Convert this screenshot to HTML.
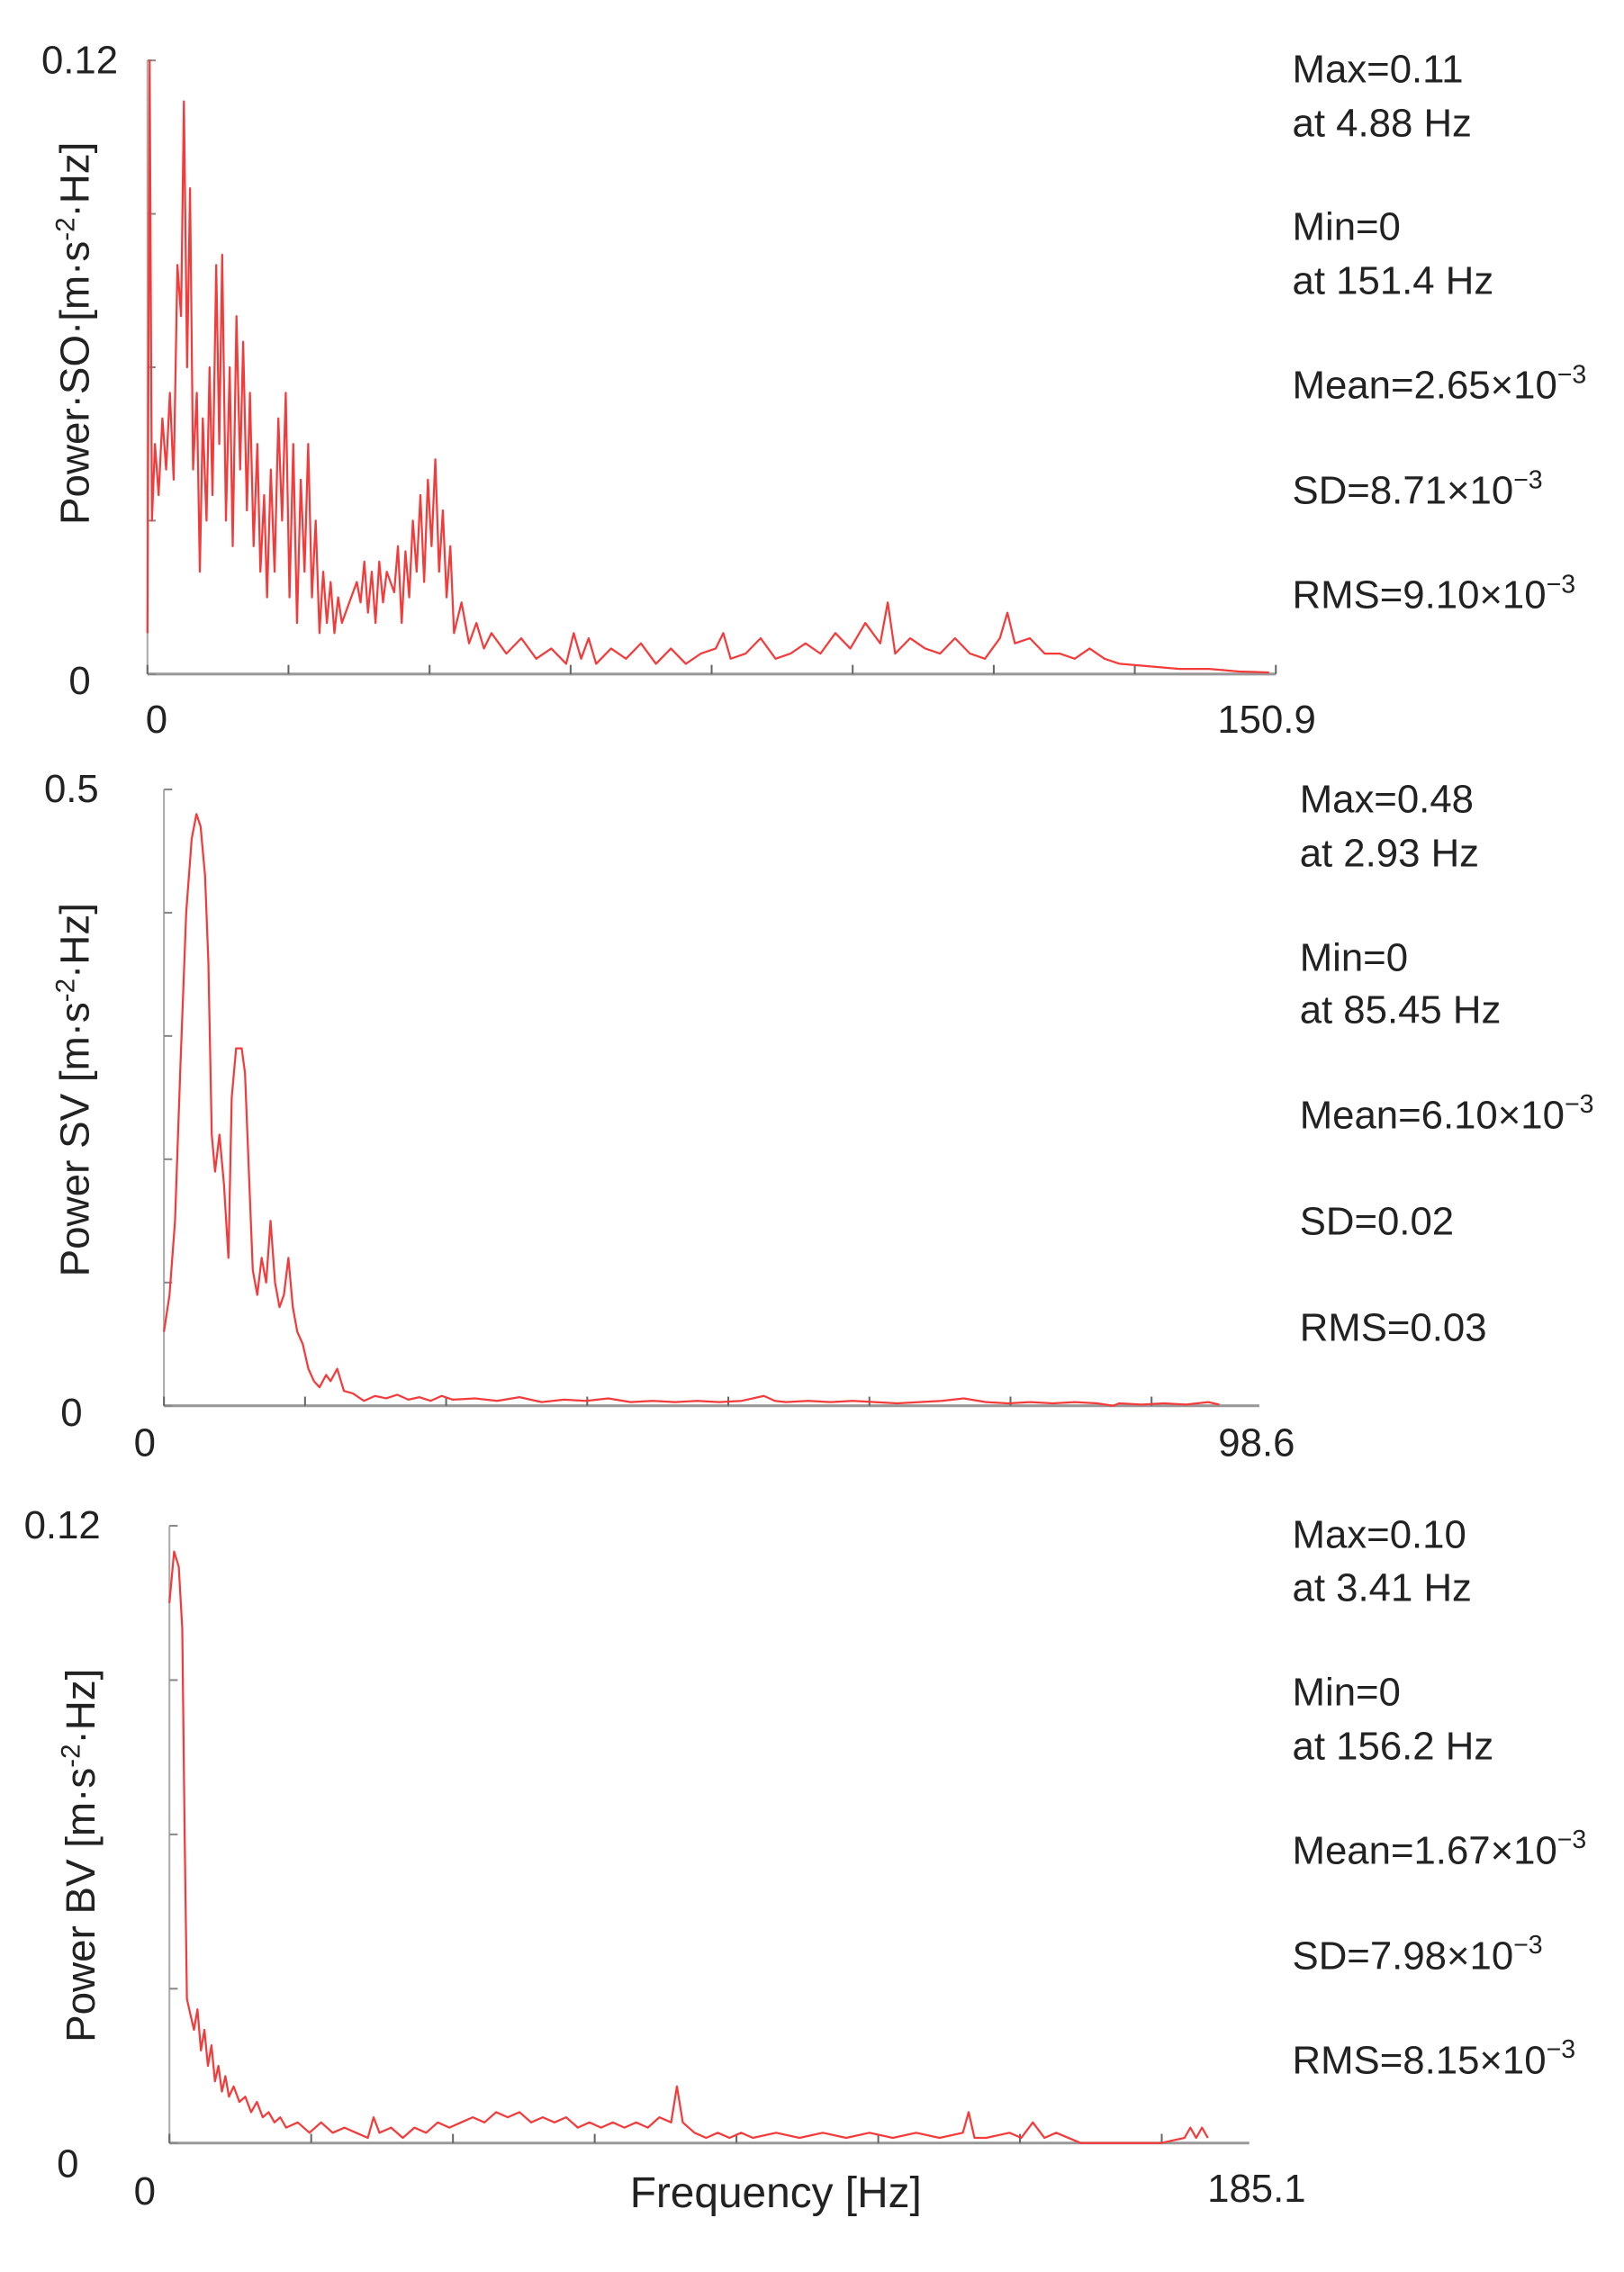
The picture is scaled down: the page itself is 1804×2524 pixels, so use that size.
<!DOCTYPE html>
<html><head><meta charset="utf-8">
<style>
html,body{margin:0;padding:0;background:#fff;}
svg{display:block;}
.num{font-family:"Liberation Sans Narrow","Liberation Sans",sans-serif;font-size:43px;fill:#222;}
.ylab{font-family:"Liberation Sans",sans-serif;font-size:45px;fill:#222;}
.xlab{font-family:"Liberation Sans",sans-serif;font-size:47px;fill:#222;}
</style></head>
<body>
<svg id="fig" width="1804" height="2524" viewBox="0 0 1804 2524" xmlns="http://www.w3.org/2000/svg"><g id="root" transform="scale(1.0174)"></g></svg>
<script>
// ---- Chart 1 data (Power SO) ----
const soFreq = [0,0.3,0.6,1.0,1.5,2.0,2.5,3.0,3.5,4.0,4.5,4.88,5.3,5.7,6.1,6.6,7.0,7.4,7.9,8.3,8.7,9.2,9.6,10.0,10.5,11.0,11.4,11.9,12.4,12.8,13.3,13.7,14.2,14.7,15.1,15.6,16.0,16.5,17.0,17.5,18.0,18.5,19.0,19.5,20.0,20.5,21.0,21.5,22.0,22.5,23.0,23.5,24.0,24.5,25.0,25.5,26.0,27.0,28.0,28.5,29.0,29.5,30.0,30.5,31.0,31.5,32.0,33.0,33.5,34.0,34.5,35.0,35.5,36.0,36.5,37.0,37.5,38.0,38.5,39.0,39.5,40.0,40.5,41.0,42,43,44,45,46,48,50,52,54,56,57,58,59,60,62,64,66,68,70,72,74,76,77,78,80,82,84,86,88,90,92,94,96,98,99,100,102,104,106,108,110,112,114,115,116,118,120,122,124,126,128,130,134,138,142,146,150];
const soPower = [8,120,30,45,35,50,40,55,38,80,70,112,60,95,40,55,20,50,30,60,35,80,45,82,30,60,25,70,40,65,32,55,25,45,20,35,15,40,20,50,30,55,15,45,10,38,20,45,15,30,8,20,10,18,8,15,10,14,18,14,22,12,20,10,22,14,20,16,25,10,24,15,30,20,35,18,38,25,42,20,32,15,25,8,14,6,10,5,8,4,7,3,5,2,8,3,7,2,5,3,6,2,5,2,4,5,8,3,4,7,3,4,6,4,8,5,10,6,14,4,7,5,4,7,4,3,7,12,6,7,4,4,3,5,3,2,1.5,1,1,0.5,0.3]; // x1e-3
const soYTicks = [0,0.03,0.06,0.09,0.12];
const soXTicks = [0,18.86,37.73,56.59,75.45,94.31,113.18,132.04,150.9];

// ---- Chart 2 data (Power SV) ----
const svFreq = [0,0.5,1.0,1.5,2.0,2.5,2.93,3.3,3.7,4.0,4.3,4.6,5.0,5.4,5.8,6.1,6.5,7.0,7.3,7.6,8.0,8.4,8.8,9.2,9.6,10.0,10.4,10.8,11.2,11.6,12.0,12.5,13.0,13.5,14.0,14.6,15.0,15.6,16.2,17,18,19,20,21,22,23,24,25,26,28,30,32,34,36,38,40,42,44,46,48,50,52,54,55,56,58,60,62,64,66,68,70,72,74,76,78,80,82,84,85.45,86,88,90,92,94,95];
const svPower = [0.06,0.09,0.15,0.28,0.40,0.46,0.48,0.47,0.43,0.36,0.22,0.19,0.22,0.18,0.12,0.25,0.29,0.29,0.27,0.20,0.11,0.09,0.12,0.10,0.15,0.10,0.08,0.09,0.12,0.08,0.06,0.05,0.03,0.02,0.015,0.025,0.02,0.03,0.012,0.01,0.004,0.008,0.006,0.009,0.005,0.007,0.004,0.008,0.005,0.006,0.004,0.007,0.003,0.005,0.004,0.006,0.003,0.004,0.003,0.004,0.003,0.004,0.008,0.004,0.003,0.004,0.003,0.004,0.003,0.002,0.003,0.004,0.006,0.003,0.002,0.003,0.002,0.003,0.002,0,0.002,0.001,0.002,0.001,0.003,0.001];
const svYTicks = [0,0.1,0.2,0.3,0.4,0.5];
const svXTicks = [0,12.7,25.4,38.1,50.8,63.5,76.2,88.9];

// ---- Chart 3 data (Power BV) ----
const bvFreq = [0,0.8,1.6,2.2,2.6,3.0,3.6,4.2,4.8,5.4,6.0,6.6,7.2,7.8,8.4,9.0,9.6,10.2,11,12,13,14,15,16,17,18,19,20,22,24,26,28,30,32,34,35,36,38,40,42,44,46,48,50,52,54,56,58,60,62,64,66,68,70,72,74,76,78,80,82,84,86,87,88,90,92,94,96,98,100,104,108,112,116,120,124,128,132,136,137,138,140,144,146,148,150,152,156.2,160,170,174,175,176,177,178];
const bvPower = [0.105,0.115,0.112,0.100,0.060,0.028,0.025,0.022,0.026,0.018,0.022,0.015,0.019,0.012,0.015,0.010,0.013,0.009,0.011,0.008,0.009,0.006,0.008,0.005,0.006,0.004,0.005,0.003,0.004,0.002,0.004,0.002,0.003,0.002,0.001,0.005,0.002,0.003,0.001,0.003,0.002,0.004,0.003,0.004,0.005,0.004,0.006,0.005,0.006,0.004,0.005,0.004,0.005,0.003,0.004,0.003,0.004,0.003,0.004,0.003,0.005,0.004,0.011,0.004,0.002,0.001,0.002,0.001,0.002,0.001,0.002,0.001,0.002,0.001,0.002,0.001,0.002,0.001,0.002,0.006,0.001,0.001,0.002,0.001,0.004,0.001,0.002,0,0,0,0.001,0.003,0.001,0.003,0.001];
const bvYTicks = [0,0.03,0.06,0.09,0.12];
const bvXTicks = [0,24.3,48.6,72.9,97.2,121.5,145.8,170.1];

const NS = "http://www.w3.org/2000/svg";
const svg = document.getElementById('root');
function mk(tag, attrs, parent){
  const e = document.createElementNS(NS, tag);
  for (const k in attrs) e.setAttribute(k, attrs[k]);
  (parent||svg).appendChild(e);
  return e;
}
function text(x,y,str,cls,anchor,parent){
  const t = mk('text',{x:x,y:y,'class':cls,'text-anchor':anchor||'start'},parent);
  t.textContent = str;
  return t;
}
function supText(x,y,base,sup,cls,parent){
  const t = mk('text',{x:x,y:y,'class':cls},parent);
  const a = document.createElementNS(NS,'tspan'); a.textContent = base; t.appendChild(a);
  const b = document.createElementNS(NS,'tspan'); b.textContent = sup;
  b.setAttribute('dy','-17'); b.setAttribute('font-size','28'); t.appendChild(b);
  return t;
}

function chart(cfg){
  const g = mk('g',{});
  
  
  const xs = f => cfg.x0 + f / cfg.xMax * (cfg.x1 - cfg.x0);
  const ys = v => cfg.yb - v / cfg.yMax * (cfg.yb - cfg.yt);
  const ya = mk('line',{x1:cfg.x0,y1:cfg.yt,x2:cfg.x0,y2:cfg.yb,stroke:'#aaa','stroke-width':2},g);
  
  
  const xa = mk('line',{x1:cfg.x0,y1:cfg.yb,x2:cfg.x1,y2:cfg.yb,stroke:'#999','stroke-width':3},g);
  
  
  cfg.yTicks.forEach(v=>{
    const t = mk('line',{x1:cfg.x0,y1:ys(v),x2:cfg.x0+9,y2:ys(v),stroke:'#888','stroke-width':2},g);
    
    
  });
  cfg.xTicks.forEach(f=>{
    const t = mk('line',{x1:xs(f),y1:cfg.yb,x2:xs(f),y2:cfg.yb-10,stroke:'#666','stroke-width':2},g);
    
    
  });
  let d = '';
  cfg.freq.forEach((f,i)=>{ d += (i?'L':'M') + xs(f).toFixed(1) + ',' + ys(cfg.power[i]*cfg.scale).toFixed(1); });
  const p = mk('path',{d:d,fill:'none',stroke:'#f43b3b','stroke-width':2.2,'stroke-linejoin':'round'},g);
  
  
  let t;
  t = text(cfg.yTopLabel[0],cfg.yTopLabel[1],cfg.yTopLabel[2],'num','middle',g);
   
  t = text(cfg.yZeroLabel[0],cfg.yZeroLabel[1],'0','num','middle',g);
   
  t = text(cfg.xZeroLabel[0],cfg.xZeroLabel[1],'0','num','middle',g);
   
  t = text(cfg.xMaxLabel[0],cfg.xMaxLabel[1],cfg.xMaxLabel[2],'num','middle',g);
   
  const yt = mk('text',{'class':'ylab','text-anchor':'middle',transform:'translate('+cfg.ytitle[0]+','+cfg.ytitle[1]+') rotate(-90)'},g);
  
  
  const a = document.createElementNS(NS,'tspan'); a.textContent = cfg.ytitle[2]; yt.appendChild(a);
  const b = document.createElementNS(NS,'tspan'); b.textContent = '-2'; b.setAttribute('dy','-16'); b.setAttribute('font-size','29'); yt.appendChild(b);
  const c = document.createElementNS(NS,'tspan'); c.textContent = '·Hz]'; c.setAttribute('dy','16'); yt.appendChild(c);
  cfg.stats.forEach((s,i)=>{
    const st = s[1] ? supText(cfg.sx, cfg.sy[i], s[0], s[1], 'num', g) : text(cfg.sx, cfg.sy[i], s[0], 'num', 'start', g);
    
    
  });
}

chart({name:'power-so-chart',x0:161,x1:1393,yt:66,yb:736,xMax:150.9,yMax:0.12,scale:0.001,
  freq:soFreq,power:soPower,yTicks:soYTicks,xTicks:soXTicks,
  yTopLabel:[87,80,'0.12'],yZeroLabel:[87,758],xZeroLabel:[171,800],xMaxLabel:[1383,800,'150.9'],
  ytitle:[97,364,'Power·SO·[m·s'],
  sx:1411,sy:[90,149,262,321,435,550,664],
  stats:[['Max=0.11'],['at 4.88 Hz'],['Min=0'],['at 151.4 Hz'],['Mean=2.65×10','−3'],['SD=8.71×10','−3'],['RMS=9.10×10','−3']]});

chart({name:'power-sv-chart',x0:179,x1:1375,yt:862,yb:1535,xMax:98.6,yMax:0.5,scale:1,
  freq:svFreq,power:svPower,yTicks:svYTicks,xTicks:svXTicks,
  yTopLabel:[78,876,'0.5'],yZeroLabel:[78,1557],xZeroLabel:[158,1590],xMaxLabel:[1372,1590,'98.6'],
  ytitle:[97,1190,'Power SV [m·s'],
  sx:1419,sy:[887,946,1060,1117,1232,1348,1464],
  stats:[['Max=0.48'],['at 2.93 Hz'],['Min=0'],['at 85.45 Hz'],['Mean=6.10×10','−3'],['SD=0.02'],['RMS=0.03']]});

chart({name:'power-bv-chart',x0:185,x1:1364,yt:1666,yb:2340,xMax:185.1,yMax:0.12,scale:1,
  freq:bvFreq,power:bvPower,yTicks:bvYTicks,xTicks:bvXTicks,
  yTopLabel:[68,1680,'0.12'],yZeroLabel:[74,2377],xZeroLabel:[158,2407],xMaxLabel:[1372,2404,'185.1'],
  ytitle:[103,2026,'Power BV [m·s'],
  sx:1411,sy:[1690,1748,1862,1921,2035,2150,2264],
  stats:[['Max=0.10'],['at 3.41 Hz'],['Min=0'],['at 156.2 Hz'],['Mean=1.67×10','−3'],['SD=7.98×10','−3'],['RMS=8.15×10','−3']]});

const xt = text(847,2410,'Frequency [Hz]','xlab','middle');


</script>
</body></html>
